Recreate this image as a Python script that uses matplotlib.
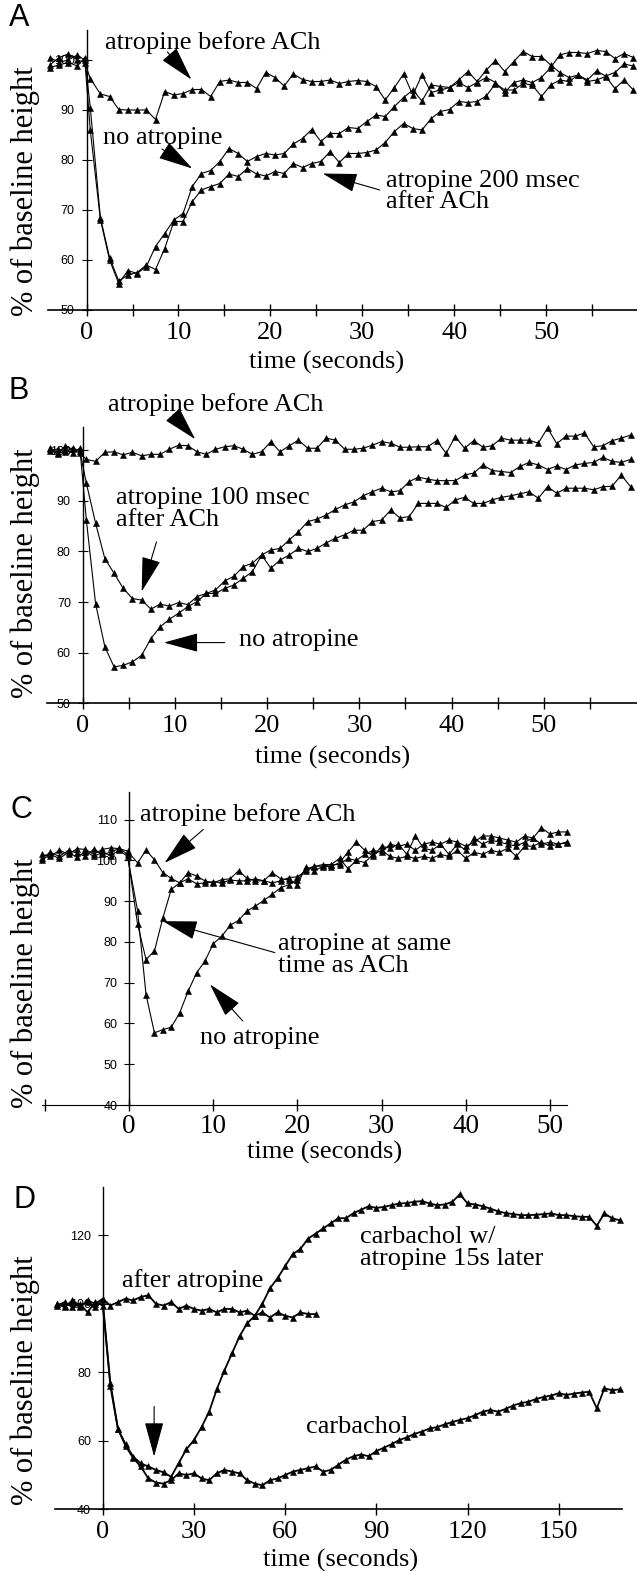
import matplotlib
matplotlib.use("Agg")
import matplotlib.pyplot as plt
from matplotlib.ticker import FixedLocator, FixedFormatter

SERIF = "Liberation Serif"
SANS = "Liberation Sans"

# ---------------- panel A ----------------
a_time = [-4.0, -3.0, -2.0, -1.0, -0.2, 0.4,
          1.5, 2.5, 3.5, 4.5, 5.5, 6.5, 7.5, 8.5, 9.5, 10.5,
          11.5, 12.5, 13.5, 14.5, 15.5, 16.5, 17.5, 18.5, 19.5, 20.5,
          21.5, 22.5, 23.5, 24.5, 25.5, 26.5, 27.5, 28.5, 29.5, 30.5,
          31.5, 32.5, 33.5, 34.5, 35.5, 36.5, 37.5, 38.5, 39.5, 40.5,
          41.5, 42.5, 43.5, 44.5, 45.5, 46.5, 47.5, 48.5, 49.5, 50.5,
          51.5, 52.5, 53.5, 54.5, 55.5, 56.5, 57.5, 58.5, 59.5]
a_before = [99.0, 100.5, 101.2, 100.0, 99.5, 96.3,
            93.2, 92.7, 90.1, 90.0, 90.0, 90.0, 88.1, 93.7, 93.0, 93.3,
            94.1, 94.1, 92.7, 95.7, 96.0, 95.5, 95.5, 94.3, 97.5, 96.5,
            94.8, 97.2, 96.1, 95.7, 95.7, 96.0, 95.3, 95.7, 95.9, 95.7,
            94.7, 92.0, 94.5, 97.2, 93.0, 97.0, 93.5, 94.0, 94.5, 95.5,
            94.5, 95.5, 96.5, 95.5, 93.5, 95.5, 96.0, 95.5, 96.5, 98.5,
            101.0, 101.5, 101.5, 101.3, 101.9, 101.7, 100.3, 101.3, 100.5]
a_none = [100.5, 99.5, 100.0, 101.0, 100.0, 86.0,
          68.1, 60.0, 55.3, 57.9, 57.3, 58.7, 62.7, 65.3, 68.0, 69.3,
          74.7, 77.3, 77.9, 79.7, 82.3, 81.3, 79.7, 80.7, 81.3, 81.0,
          81.3, 83.2, 84.3, 86.1, 83.7, 85.3, 85.3, 86.5, 86.3, 87.7,
          89.0, 88.7, 90.7, 92.5, 94.0, 91.8, 95.0, 94.7, 94.5, 96.0,
          97.7, 95.7, 98.0, 99.9, 97.7, 99.7, 101.7, 100.7, 100.7, 99.0,
          97.5, 96.5, 97.0, 96.0, 97.8, 96.8, 97.5, 99.2, 98.8]
a_200ms = [98.5, 99.0, 99.5, 98.8, 100.5, 90.5,
           68.5, 60.5, 55.8, 57.0, 57.5, 59.0, 58.1, 62.3, 67.7, 67.7,
           71.7, 74.0, 74.7, 75.3, 77.2, 76.7, 78.3, 77.2, 76.8, 77.7,
           77.3, 79.3, 78.5, 79.3, 79.7, 81.7, 79.5, 81.3, 81.3, 81.5,
           82.0, 83.5, 85.7, 87.3, 86.3, 86.0, 88.3, 89.7, 90.1, 91.7,
           91.5, 91.7, 92.8, 95.3, 94.0, 94.0, 95.3, 95.0, 92.7, 95.0,
           96.0, 95.7, 97.0, 95.7, 96.0, 96.7, 94.3, 96.0, 94.0]

# ---------------- panel B ----------------
b_time = [-3.5, -2.7, -1.9, -1.1, -0.3, 0.4,
          1.4, 2.4, 3.4, 4.4, 5.4, 6.4, 7.4, 8.4, 9.4, 10.4,
          11.4, 12.4, 13.4, 14.4, 15.4, 16.4, 17.4, 18.4, 19.4, 20.4,
          21.4, 22.4, 23.4, 24.4, 25.4, 26.4, 27.4, 28.4, 29.4, 30.4,
          31.4, 32.4, 33.4, 34.4, 35.4, 36.4, 37.4, 38.4, 39.4, 40.4,
          41.4, 42.4, 43.4, 44.4, 45.4, 46.4, 47.4, 48.4, 49.4, 50.4,
          51.4, 52.4, 53.4, 54.4, 55.4, 56.4, 57.4, 58.4, 59.4]
b_before = [100.5, 99.5, 100.8, 100.2, 99.4, 98.2,
            97.8, 99.6, 99.7, 99.1, 99.6, 98.9, 99.2, 99.2, 100.2, 101.0,
            100.9, 99.7, 99.2, 100.2, 100.7, 100.9, 100.2, 99.2, 99.7, 101.7,
            99.7, 100.9, 102.0, 100.4, 100.4, 102.4, 102.0, 100.2, 100.2, 100.4,
            101.0, 101.7, 101.4, 100.6, 100.6, 100.7, 100.7, 101.9, 99.4, 102.7,
            100.4, 101.9, 100.6, 100.9, 102.4, 102.0, 102.0, 102.0, 101.4, 104.4,
            101.3, 102.8, 102.8, 103.4, 100.7, 100.9, 101.9, 102.4, 103.0]
b_100ms = [99.8, 100.3, 99.6, 100.5, 99.8, 93.5,
           85.6, 78.6, 75.7, 72.7, 70.7, 70.4, 68.6, 69.6, 69.2, 69.9,
           69.5, 71.1, 71.7, 72.4, 74.2, 75.1, 77.0, 77.7, 79.3, 80.3,
           80.6, 82.3, 83.9, 85.9, 86.4, 87.2, 88.3, 89.2, 89.8, 91.0,
           91.8, 92.5, 91.8, 92.0, 93.8, 94.7, 94.3, 94.0, 94.0, 94.0,
           95.1, 95.5, 97.1, 96.0, 95.8, 95.6, 96.8, 97.6, 97.1, 96.2,
           96.9, 96.2, 97.1, 97.4, 97.6, 98.6, 97.8, 97.6, 98.2]
b_none = [100.2, 99.2, 100.0, 99.5, 100.4, 86.2,
          69.7, 61.2, 57.2, 57.5, 58.2, 59.5, 62.8, 65.1, 66.6, 67.8,
          69.1, 70.1, 71.7, 71.7, 72.7, 73.4, 74.7, 76.0, 79.3, 76.7,
          78.3, 79.3, 80.6, 80.0, 80.6, 81.7, 82.6, 83.3, 84.2, 84.2,
          85.9, 86.2, 88.2, 86.6, 86.9, 89.5, 89.5, 89.5, 88.7, 90.2,
          90.7, 89.5, 89.5, 90.2, 90.7, 91.0, 91.4, 91.8, 90.5, 92.8,
          91.5, 92.5, 92.5, 92.5, 92.2, 92.8, 92.9, 95.1, 92.8]

# ---------------- panel C ----------------
c_time = [-10.4, -9.4, -8.3, -7.2, -6.2, -5.2, -4.2, -3.2, -2.2, -1.2, -0.2,
          1, 2, 3, 4, 5, 6, 7, 8, 9, 10, 11, 12, 13, 14, 15, 16, 17, 18, 19, 20,
          21, 22, 23, 24, 25, 26, 27, 28, 29, 30, 31, 32, 33, 34, 35, 36,
          37, 38, 39, 40, 41, 42, 43, 44, 45, 46, 47, 48, 49, 50, 51, 52]
c_before = [101.5, 101.0, 102.5, 101.5, 102.9, 102.7, 101.5, 102.7, 103.1, 102.9, 102.3,
            99.4, 102.5, 100.2, 97.0, 95.6, 94.5, 97.0, 96.2, 95.0, 94.5,
            95.3, 95.5, 97.5, 95.6, 95.0, 95.0, 97.0, 95.5, 95.3, 94.0,
            98.5, 97.5, 98.5, 98.5, 99.5, 102.0, 104.5, 102.5, 101.0, 103.5,
            103.0, 104.0, 101.5, 106.0, 103.0, 102.5, 104.0, 101.5, 104.0, 102.5,
            105.5, 104.0, 105.0, 104.5, 104.0, 103.5, 104.5, 105.5, 104.0, 104.5,
            104.0, 104.5]
c_same = [100.5, 102.0, 101.0, 102.5, 101.8, 101.0, 102.8, 101.5, 102.0, 103.0, 101.5,
          84.3, 75.7, 77.8, 85.9, 92.9, 94.5, 95.5, 94.3, 94.5, 94.8,
          94.5, 95.2, 95.0, 95.0, 95.5, 95.0, 94.5, 95.0, 95.8, 96.0,
          97.5, 98.5, 99.0, 99.0, 99.0, 100.5, 100.0, 99.5, 101.5, 102.5,
          101.0, 100.5, 101.0, 100.5, 101.0, 100.5, 101.5, 101.0, 102.5, 100.5,
          102.0, 101.5, 102.5, 102.0, 103.0, 101.0, 103.5, 103.5, 104.5, 103.5,
          104.0, 104.3]
c_none = [100.0, 101.5, 100.5, 102.0, 100.8, 102.2, 101.0, 102.0, 101.2, 102.5, 101.0,
          87.6, 67.1, 57.7, 58.5, 59.1, 62.6, 67.9, 72.4, 75.3, 79.6,
          81.4, 84.1, 85.3, 87.6, 88.8, 90.2, 91.7, 93.3, 94.1, 95.3,
          97.8, 98.6, 98.6, 99.0, 100.5, 98.0, 100.0, 101.5, 102.5, 102.0,
          104.0, 103.5, 104.0, 102.5, 104.0, 104.5, 104.0, 105.0, 104.5, 103.5,
          104.5, 106.0, 106.0, 105.5, 105.0, 104.5, 106.0, 105.5, 108.0, 106.5,
          107.0, 107.0]

# ---------------- panel D ----------------
d_time = [-15, -12.5, -10, -7.5, -5, -2.5, 0, 2.5, 5, 7.5, 10, 12.5, 15, 17.5,
          20, 22.5, 25, 27.5, 30, 32.5, 35, 37.5, 40, 42.5, 45, 47.5, 50, 52.5,
          55, 57.5, 60, 62.5, 65, 67.5, 70, 72.5, 75, 77.5, 80, 82.5, 85, 87.5,
          90, 92.5, 95, 97.5, 100, 102.5, 105, 107.5, 110, 112.5, 115, 117.5,
          120, 122.5, 125, 127.5, 130, 132.5, 135, 137.5, 140, 142.5, 145, 147.5,
          150, 152.5, 155, 157.5, 160, 162.5, 165, 167.5, 170]
d_carb = [99.5, 100.5, 99.0, 100.0, 97.5, 100.5, 99.5, 77.0, 63.5, 58.5, 55.0, 52.5, 49.0, 47.8,
          47.5, 48.5, 50.5, 50.0, 50.5, 49.0, 48.5, 50.5, 51.5, 51.0, 50.5, 48.5, 47.5, 47.0,
          48.5, 49.0, 50.0, 51.0, 51.5, 52.0, 52.5, 51.0, 51.5, 53.0, 54.5, 55.5, 56.0, 55.5,
          57.0, 58.0, 59.0, 60.2, 61.0, 62.0, 62.7, 63.6, 64.0, 64.8, 65.5, 66.1,
          66.6, 67.5, 68.5, 69.0, 68.5, 69.3, 70.3, 71.0, 71.4, 72.2, 72.8, 73.2,
          73.9, 73.4, 73.8, 74.1, 74.3, 69.5, 75.3, 74.8, 75.0]
d_carb_atr = [100.0, 99.0, 101.0, 99.5, 100.5, 99.0, 101.0, 76.0, 63.5, 59.0, 55.4, 53.4, 52.5, 51.5,
              50.8, 49.5, 53.5, 57.5, 60.2, 64.0, 68.5, 75.0, 80.5, 85.5, 90.5, 94.3, 96.5, 100.0,
              104.5, 107.5, 111.0, 114.5, 116.0, 119.0, 120.5, 122.0, 123.5, 125.0, 125.0, 126.5, 127.5, 128.5,
              128.0, 128.3, 128.8, 129.3, 129.4, 129.8, 130.0, 129.3, 128.8, 129.0, 129.8, 132.0,
              129.3, 129.0, 128.5, 127.8, 127.0, 126.5, 126.2, 125.9, 125.9, 126.0, 126.2, 126.4,
              125.9, 125.9, 125.6, 125.4, 125.4, 122.8, 126.4, 125.0, 124.4]
d_after_time = [-15, -12.5, -10, -7.5, -5, -2.5, 0, 2.5, 5, 7.5, 10, 12.5, 15, 17.5,
                20, 22.5, 25, 27.5, 30, 32.5, 35, 37.5, 40, 42.5, 45, 47.5, 50, 52.5,
                55, 57.5, 60, 62.5, 65, 67.5, 70]
d_after = [100.0, 99.5, 100.5, 99.0, 101.0, 100.0, 101.5, 99.5, 100.5, 101.5, 101.0, 102.0, 102.5, 100.0,
           99.5, 100.5, 98.5, 99.5, 98.5, 98.0, 98.5, 97.5, 98.5, 98.5, 97.5, 98.0, 96.5, 97.5,
           96.0, 97.5, 96.5, 96.0, 97.5, 97.0, 97.0]

W, H = 637, 1571
fig = plt.figure(figsize=(W / 100, H / 100), dpi=100)


def make_axes(left, right, top, bottom):
    # pixel box -> figure fraction
    return fig.add_axes([left / W, 1 - bottom / H, (right - left) / W, (bottom - top) / H])


def style(ax, xlim, ylim, xmaj, xmin, xlab, yticks, xfs=19, axlw=1.2, xpad=4):
    ax.set_xlim(*xlim)
    ax.set_ylim(*ylim)
    for s in ["top", "right"]:
        ax.spines[s].set_visible(False)
    ax.spines["left"].set_position(("data", 0))
    ax.spines["left"].set_linewidth(1.0)
    ax.spines["bottom"].set_linewidth(axlw)
    ax.xaxis.set_major_locator(FixedLocator(xmaj))
    ax.xaxis.set_major_formatter(FixedFormatter(xlab))
    ax.xaxis.set_minor_locator(FixedLocator(xmin))
    ax.tick_params(axis="x", which="both", direction="inout", length=9, width=1.0, pad=xpad)
    ax.tick_params(axis="y", direction="inout", length=7, width=0.8, pad=5)
    ax.set_yticks(yticks)
    ax.set_yticklabels([str(v) for v in yticks])
    for lab in ax.get_xticklabels():
        lab.set_fontfamily(SERIF)
        lab.set_fontsize(xfs)
    for lab in ax.get_yticklabels():
        lab.set_fontfamily(SANS)
        lab.set_fontsize(9)
    ax.set_axisbelow(True)
    ax.patch.set_alpha(0)


def series(ax, t, y, ms=4.6, lw=0.8):
    ax.plot(t, y, color="black", lw=lw, marker="^", ms=ms, mec="black", mfc="black",
            mew=0.4, clip_on=False, zorder=3)


def label(ax, x, y, s, size=19):
    ax.text(x, y, s, fontsize=size, family=SERIF, ha="left", va="center",
            linespacing=1.0, clip_on=False, zorder=4)


def arrow(ax, tip, tail, hl=2.2, hw=0.6):
    ax.annotate("", xy=tip, xytext=tail,
                arrowprops=dict(arrowstyle=f"-|>,head_length={hl},head_width={hw}",
                                color="black", lw=0.8, shrinkA=0, shrinkB=0,
                                mutation_scale=10),
                annotation_clip=False, zorder=4)


# ---- A ----
axA = make_axes(48, 637, 30, 310)
style(axA, (-4.2, 59.9), (50, 106), [0, 10, 20, 30, 40, 50],
      [5, 15, 25, 35, 45, 55], ["0", "10", "20", "30", "40", "50"],
      [50, 60, 70, 80, 90, 100])
series(axA, a_time, a_before)
series(axA, a_time, a_none)
series(axA, a_time, a_200ms)
label(axA, 2.0, 103.4, "atropine before ACh")
arrow(axA, (11.4, 96.1), (8.8, 101.6))
label(axA, 1.8, 84.4, "no atropine")
arrow(axA, (11.5, 78.3), (8.2, 82.2))
label(axA, 32.6, 73.7, "atropine 200 msec\nafter ACh")
arrow(axA, (25.7, 77.3), (31.9, 74.0))

# ---- B ----
axB = make_axes(46.7, 637, 427, 703.3)
style(axB, (-3.9, 60.1), (50, 104.6), [0, 10, 20, 30, 40, 50],
      [5, 15, 25, 35, 45, 55], ["0", "10", "20", "30", "40", "50"],
      [50, 60, 70, 80, 90, 100])
series(axB, b_time, b_before)
series(axB, b_time, b_100ms)
series(axB, b_time, b_none)
label(axB, 2.7, 109.0, "atropine before ACh")
arrow(axB, (12.2, 102.2), (9.8, 107.0))
label(axB, 3.6, 88.3, "atropine 100 msec\nafter ACh")
arrow(axB, (6.4, 72.1), (8.0, 81.9))
label(axB, 16.9, 62.5, "no atropine")
arrow(axB, (8.8, 62.0), (15.4, 62.0))

# ---- C ----
axC = make_axes(41.7, 566.7, 792, 1105)
style(axC, (-10.4, 52), (40, 116.8), [0, 10, 20, 30, 40, 50], [-10],
      ["0", "10", "20", "30", "40", "50"],
      [40, 50, 60, 70, 80, 90, 100, 110], xfs=19.5, axlw=0.8, xpad=2)
series(axC, c_time, c_before, ms=4.2)
series(axC, c_time, c_same, ms=4.2)
series(axC, c_time, c_none, ms=4.2)
label(axC, 1.3, 111.3, "atropine before ACh")
arrow(axC, (4.2, 99.4), (8.8, 107.6))
label(axC, 17.7, 76.8, "atropine at same\ntime as ACh")
arrow(axC, (4.0, 85.1), (17.3, 77.4))
label(axC, 8.4, 56.5, "no atropine")
arrow(axC, (9.6, 69.6), (13.5, 60.6))

# ---- D ----
axD = make_axes(55, 621.7, 1186.7, 1509.3)
style(axD, (-15.7, 170.7), (40, 134.2), [0, 30, 60, 90, 120, 150], [],
      ["0", "30", "60", "90", "120", "150"], [40, 60, 80, 100, 120])
series(axD, d_after_time, d_after, ms=4.0, lw=1.3)
series(axD, d_time, d_carb_atr, ms=4.0, lw=1.3)
series(axD, d_time, d_carb, ms=4.0, lw=1.3)
label(axD, 84.7, 116.4, "carbachol w/\natropine 15s later")
label(axD, 6.2, 106.9, "after atropine")
label(axD, 66.8, 64.1, "carbachol")
arrow(axD, (16.9, 55.4), (16.9, 70.0))

# panel letters, y labels, x labels
for letter, (x, y) in zip("ABCD", [(19, 18), (19, 391), (21, 810), (25, 1200)]):
    fig.text(x / W, 1 - y / H, letter, fontsize=22, family=SANS, ha="center", va="center")
for y in [191, 573, 983, 1380]:
    fig.text(25 / W, 1 - y / H, "% of baseline height", fontsize=22, family=SERIF,
             rotation=90, ha="center", va="center")
for x, y in [(327, 362), (333, 757), (325, 1152), (341, 1560)]:
    fig.text(x / W, 1 - y / H, "time (seconds)", fontsize=19, family=SERIF,
             ha="center", va="center")

fig.savefig("out.png", dpi=100)
